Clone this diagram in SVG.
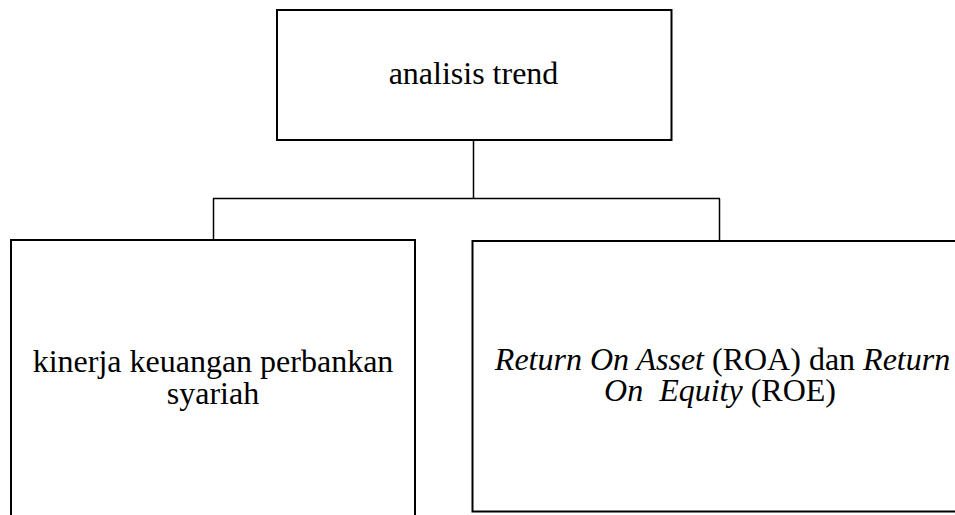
<svg xmlns="http://www.w3.org/2000/svg" width="955" height="515" viewBox="0 0 955 515">
<style>
.box{fill:#fff;stroke:#000;stroke-width:2}
.conn{fill:none;stroke:#000;stroke-width:1.5}
.t{font-family:'Liberation Serif','Times New Roman',serif;font-size:32px;fill:#000;text-anchor:middle}
.it{font-style:italic}
</style>
<rect width="955" height="515" fill="#fff"/>
<g id="connectors">
<path class="conn" d="M473.5 140 V198.5 M213 198.5 H720 M213.5 198.5 V240 M719.5 198.5 V241"/>
</g>
<g id="node-top">
<rect class="box" x="277" y="10" width="394.5" height="130"/>
<text class="t" x="473.5" y="84">analisis trend</text>
</g>
<g id="node-left">
<rect class="box" x="11" y="240" width="404" height="300"/>
<text class="t" x="213" y="372"><tspan x="213" y="372">kinerja keuangan perbankan</tspan><tspan x="213" y="404">syariah</tspan></text>
</g>
<g id="node-right">
<rect class="box" x="472.5" y="241" width="520" height="270.5"/>
<text class="t" x="722.5" y="370" xml:space="preserve"><tspan x="722.5" y="370"><tspan class="it">Return On Asset</tspan> (ROA) dan <tspan class="it">Return</tspan></tspan><tspan x="720" y="401"><tspan class="it">On  Equity</tspan> (ROE)</tspan></text>
</g>
</svg>
